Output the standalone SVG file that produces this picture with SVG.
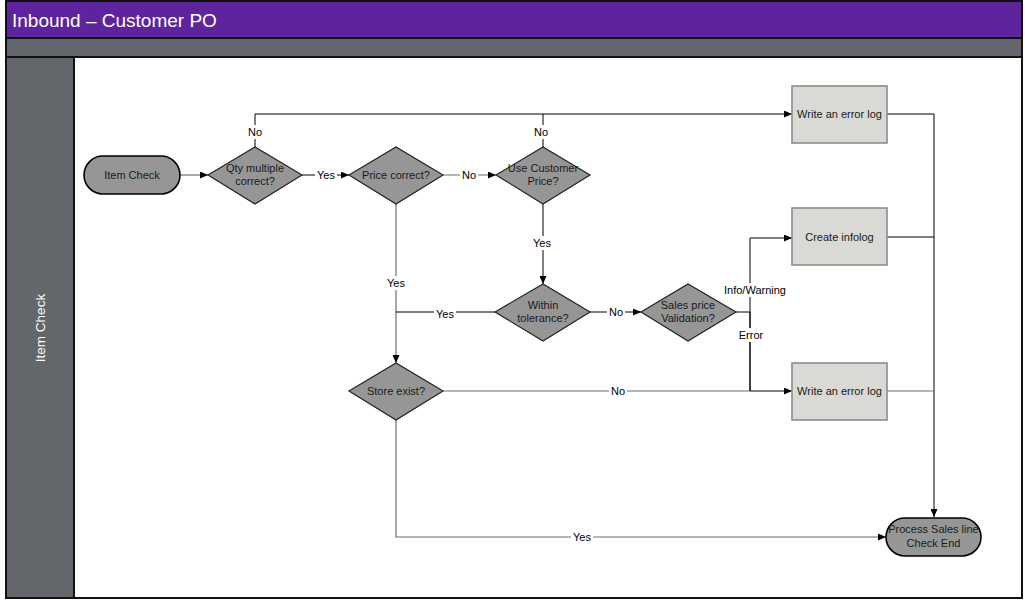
<svg xmlns="http://www.w3.org/2000/svg" width="1025" height="600" viewBox="0 0 1025 600">
<defs>
<marker id="arr" markerWidth="8" markerHeight="7" refX="8" refY="3.5" orient="auto" markerUnits="userSpaceOnUse">
<path d="M0,0 L8,3.5 L0,7 z" fill="#000"/>
</marker>
<style>
.t{font-family:"Liberation Sans",Arial,sans-serif;font-size:11px;fill:#1a1a1a;text-anchor:middle}
.lbl{font-family:"Liberation Sans",Arial,sans-serif;font-size:11px;fill:#000;text-anchor:middle}
.dia{fill:#969696;stroke:#222;stroke-width:1.2}
.pill{fill:#969696;stroke:#000;stroke-width:1.6}
.box{fill:#d9d9d5;stroke:#8c8c8c;stroke-width:1.6}
.c{fill:none;stroke:#000;stroke-width:1}
.g{fill:none;stroke:#6e6e6e;stroke-width:1.2}
.a{marker-end:url(#arr)}
.bg{fill:#fff}
</style>
</defs>
<rect width="1025" height="600" fill="#fff"/>
<g id="pool">
<rect x="6" y="1" width="1016" height="37" fill="#5e249e" stroke="#111" stroke-width="2"/>
<text x="12" y="27" font-family="Liberation Sans, Arial, sans-serif" font-size="19" fill="#fff">Inbound – Customer PO</text>
<rect x="6" y="38" width="1016" height="19" fill="#63666a" stroke="#111" stroke-width="2"/>
<rect x="6" y="57" width="1016" height="541" fill="#fff" stroke="#111" stroke-width="2"/>
<rect x="6" y="57" width="68" height="541" fill="#63666a" stroke="#111" stroke-width="2"/>
<text transform="translate(45,328) rotate(-90)" font-family="Liberation Sans, Arial, sans-serif" font-size="13.5" fill="#fff" text-anchor="middle">Item Check</text>
</g>
<g id="connectors">
<path class="g a" d="M180 175 H208"/>
<path class="c a" d="M302 175 H349"/>
<path class="g a" d="M443 175 H496"/>
<path class="c a" d="M255 147 V114 H792"/>
<path class="c" d="M543 147 V114"/>
<path class="c a" d="M543 204 V284"/>
<path class="g a" d="M396 204 V363"/>
<path class="c" d="M495 312 H396"/>
<path class="c a" d="M590 312 H641"/>
<path class="c" d="M736 312 H750"/>
<path class="c a" d="M750 391 V238 H792"/>
<path class="g" d="M443 391 H750"/>
<path class="c a" d="M750 312 V391 H792"/>
<path class="g a" d="M396 420 V537 H886"/>
<path class="c a" d="M887 114 H934 V517"/>
<path class="c" d="M887 237 H934"/>
<path class="g" d="M887 391 H934"/>
<g id="labels">
<rect class="bg" x="246" y="125" width="18" height="14"/><text class="lbl" x="255" y="136">No</text>
<rect class="bg" x="315" y="169" width="22" height="13"/><text class="lbl" x="326" y="179">Yes</text>
<rect class="bg" x="460" y="169" width="18" height="13"/><text class="lbl" x="469" y="179">No</text>
<rect class="bg" x="532" y="125" width="18" height="14"/><text class="lbl" x="541" y="136">No</text>
<rect class="bg" x="531" y="236" width="22" height="14"/><text class="lbl" x="542" y="247">Yes</text>
<rect class="bg" x="385" y="276" width="22" height="14"/><text class="lbl" x="396" y="287">Yes</text>
<rect class="bg" x="434" y="307" width="22" height="13"/><text class="lbl" x="445" y="318">Yes</text>
<rect class="bg" x="607" y="306" width="18" height="13"/><text class="lbl" x="616" y="316">No</text>
<rect class="bg" x="721" y="283" width="68" height="14"/><text class="lbl" x="755" y="294">Info/Warning</text>
<rect class="bg" x="737" y="328" width="28" height="14"/><text class="lbl" x="751" y="339">Error</text>
<rect class="bg" x="609" y="385" width="18" height="13"/><text class="lbl" x="618" y="395">No</text>
<rect class="bg" x="571" y="531" width="22" height="13"/><text class="lbl" x="582" y="541">Yes</text>
</g>
</g>
<g id="item-check">
<rect class="pill" x="84" y="156" width="96" height="38" rx="19"/>
<text class="t" x="132" y="179">Item Check</text>
</g>
<g id="qty-multiple">
<polygon class="dia" points="208,175 255,147 302,175 255,204"/>
<text class="t" x="255" y="172">Qty multiple</text>
<text class="t" x="255" y="185">correct?</text>
</g>
<g id="price-correct">
<polygon class="dia" points="349,175 396,147 443,175 396,204"/>
<text class="t" x="396" y="179">Price correct?</text>
</g>
<g id="use-customer-price">
<polygon class="dia" points="496,175 543,147 590,175 543,204"/>
<text class="t" x="543" y="172">Use Customer</text>
<text class="t" x="543" y="185">Price?</text>
</g>
<g id="within-tolerance">
<polygon class="dia" points="495,312 543,284 590,312 543,341"/>
<text class="t" x="543" y="309">Within</text>
<text class="t" x="543" y="322">tolerance?</text>
</g>
<g id="sales-price-validation">
<polygon class="dia" points="641,312 688,284 736,312 688,341"/>
<text class="t" x="688" y="309">Sales price</text>
<text class="t" x="688" y="322">Validation?</text>
</g>
<g id="store-exist">
<polygon class="dia" points="349,391 396,363 443,391 396,420"/>
<text class="t" x="396" y="395">Store exist?</text>
</g>
<g id="error-log-1">
<rect class="box" x="792" y="86" width="95" height="57"/>
<text class="t" x="839.5" y="118">Write an error log</text>
</g>
<g id="create-infolog">
<rect class="box" x="792" y="208" width="95" height="57"/>
<text class="t" x="839.5" y="241">Create infolog</text>
</g>
<g id="error-log-2">
<rect class="box" x="792" y="363" width="95" height="57"/>
<text class="t" x="839.5" y="395">Write an error log</text>
</g>
<g id="end">
<rect class="pill" x="886" y="518" width="95" height="38" rx="19"/>
<text class="t" x="933.5" y="533">Process Sales line</text>
<text class="t" x="933.5" y="547">Check End</text>
</g>
</svg>
